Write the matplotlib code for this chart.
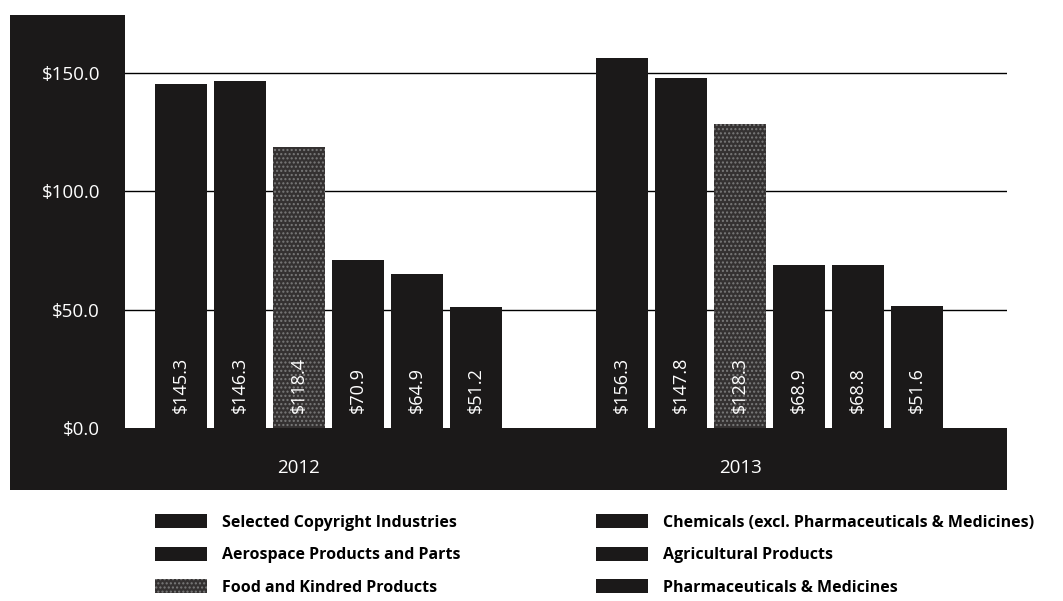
import matplotlib
matplotlib.use("Agg")
import matplotlib.pyplot as plt
from matplotlib.patches import Rectangle, Patch
import numpy as np

years = ["2012", "2013"]
series = [
    "Selected Copyright Industries",
    "Aerospace Products and Parts",
    "Food and Kindred Products",
    "Chemicals (excl. Pharmaceuticals & Medicines)",
    "Agricultural Products",
    "Pharmaceuticals & Medicines",
]
values_2012 = [145.3, 146.3, 118.4, 70.9, 64.9, 51.2]
values_2013 = [156.3, 147.8, 128.3, 68.9, 68.8, 51.6]
ytick_vals = [0, 50, 100, 150]
ytick_labels = ["$0.0", "$50.0", "$100.0", "$150.0"]

W, H = 1063, 601
fig = plt.figure(figsize=(W / 100, H / 100), dpi=100)
fig.patch.set_facecolor("white")

DARK = "#1b1919"
SPECK_FACE = "#343131"
SPECK_EDGE = "#7a7a7a"


def fx(px):
    return px / W


def fy(py):
    return 1 - py / H


# background black panels (figure coords)
fig.patches.append(Rectangle((fx(10), fy(490)), fx(125) - fx(10), fy(15) - fy(490),
                             transform=fig.transFigure, facecolor=DARK, edgecolor="none", zorder=-5))
fig.patches.append(Rectangle((fx(10), fy(490)), fx(1007) - fx(10), fy(428) - fy(490),
                             transform=fig.transFigure, facecolor=DARK, edgecolor="none", zorder=-5))

ax = fig.add_axes([fx(125), fy(428), fx(1007) - fx(125), fy(15) - fy(428)])
ax.set_facecolor("none")
ax.set_ylim(0, 174.3)
ax.set_xlim(-0.46, 1.538)

spacing = 59 / 441.5
width = 52 / 441.5
group_pos = np.arange(len(years))
data = np.array([values_2012, values_2013])

for i, name in enumerate(series):
    xs = group_pos + (i - 2.5) * spacing
    vals = data[:, i]
    if i == 2:
        ax.bar(xs, vals, width, color=SPECK_FACE, edgecolor=SPECK_EDGE, hatch="....",
               linewidth=0, zorder=3, label=name)
    else:
        ax.bar(xs, vals, width, color=DARK, linewidth=0, zorder=3, label=name)
    for x, v in zip(xs, vals):
        ax.text(x, 6.5, f"${v:.1f}", rotation=90, ha="center", va="bottom",
                color="white", fontsize=13, family="Open Sans", zorder=5)

# gridlines
for yv in ytick_vals[1:]:
    ax.axhline(yv, color="black", linewidth=1.0, zorder=1)

ax.set_yticks(ytick_vals)
ax.set_yticklabels(ytick_labels, color="white", fontsize=13.5, family="Open Sans")
ax.tick_params(axis="y", length=0, pad=18)

ax.set_xticks(group_pos - 0.5 * spacing)
ax.set_xticklabels(years, color="white", fontsize=13.5, family="Open Sans")
ax.tick_params(axis="x", length=0, pad=22)

for s in ax.spines.values():
    s.set_visible(False)

handles = []
for i, name in enumerate(series):
    if i == 2:
        handles.append(Patch(facecolor=SPECK_FACE, edgecolor=SPECK_EDGE, hatch="....",
                             linewidth=0, label=name))
    else:
        handles.append(Patch(facecolor=DARK, edgecolor="none", label=name))

legprops = {"family": "Open Sans", "weight": "bold", "size": 11.5}
common = dict(loc="upper left", frameon=False, handlelength=3.25, handleheight=1.0,
              handletextpad=0.94, labelspacing=1.0, borderpad=0, borderaxespad=0,
              prop=legprops)
leg1 = fig.legend(handles=handles[:3], labels=series[:3],
                  bbox_to_anchor=(fx(155), fy(514)), **common)
leg2 = fig.legend(handles=handles[3:], labels=series[3:],
                  bbox_to_anchor=(fx(596), fy(514)), **common)

fig.savefig("out.png", dpi=100)
